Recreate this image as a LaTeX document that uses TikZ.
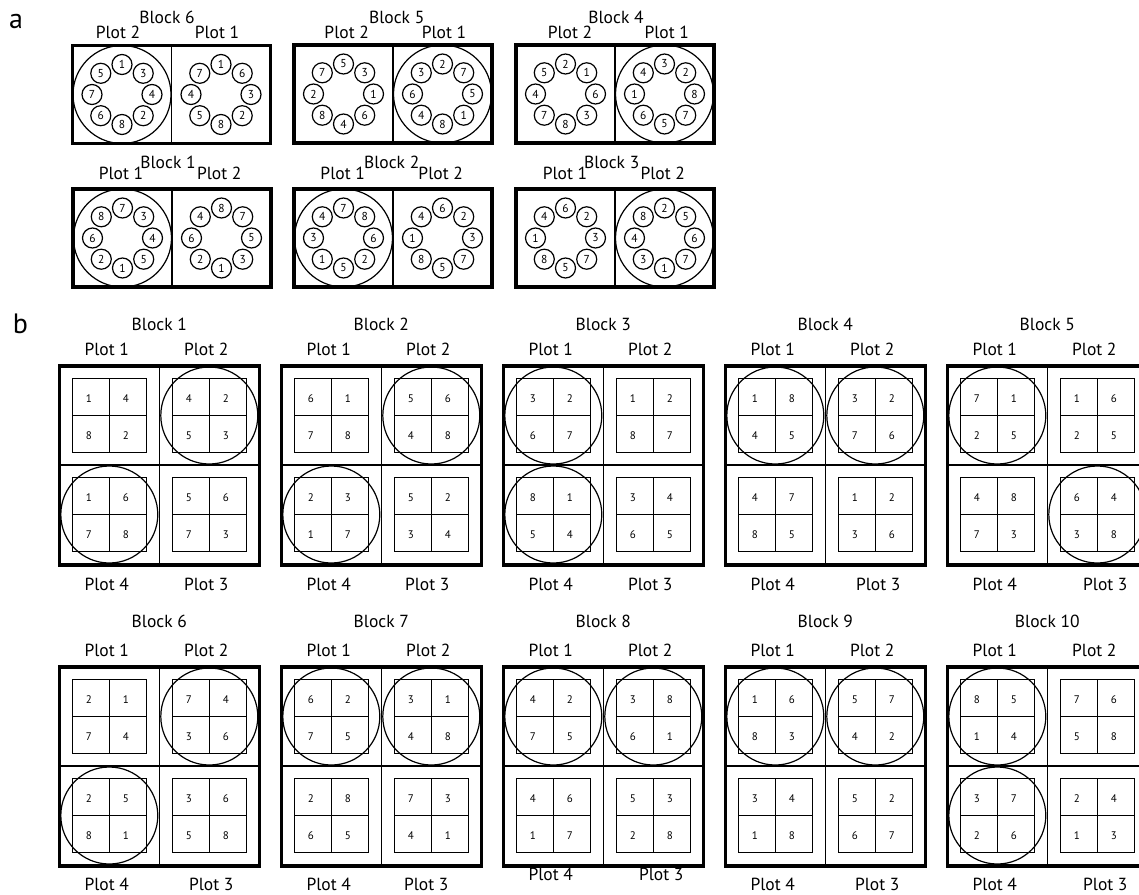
\documentclass[tikz,border=0pt]{standalone}
\usepackage{fontspec}
\setmainfont{PT Sans}
\tikzset{
  lbl/.style={inner sep=0pt, font=\fontsize{17.5}{20}\selectfont},
  panel/.style={inner sep=0pt, font=\fontsize{28}{30}\selectfont},
  gnum/.style={inner sep=0pt, font=\fontsize{11}{12}\selectfont},
  ringc/.style={circle, draw, line width=1.2pt, minimum size=20pt, inner sep=0pt, font=\fontsize{11.5}{12}\selectfont},
  thickframe/.style={line width=3.4pt},
  thinline/.style={line width=1.2pt},
}
% ring of eight small circles
\newcommand\Ring[4]{%
  \foreach \n [count=\i] in {#4} {
    \pgfmathsetmacro\xx{#2+30*cos(90-45*(\i-1))}
    \pgfmathsetmacro\yy{#3-30*sin(90-45*(\i-1))}
    \node[ringc] (#1\i) at (\xx,\yy) {\n};
  }%
}
% part a block: id, x, y, left list, right list, big circle side (0 left / 1 right)
\newcommand\AB[6]{%
  \draw[thickframe] (#2,#3) rectangle ++(198,98);
  \draw[thinline] (#2+99,#3) -- (#2+99,#3+98);
  \coordinate (#1-L) at (#2+49.5,#3+49);
  \coordinate (#1-R) at (#2+148.5,#3+49);
  \ifnum#6=0 \draw[thinline] (#1-L) circle (49);\else \draw[thinline] (#1-R) circle (49);\fi
  \Ring{#1-l}{#2+49.5}{#3+49}{#4}
  \Ring{#1-r}{#2+148.5}{#3+49}{#5}
}
% 2x2 numbered grid
\newcommand\Grid[4]{%
  \draw[thinline] (#2-37,#3-37) rectangle (#2+37,#3+37);
  \draw[thinline] (#2,#3-37) -- (#2,#3+37) (#2-37,#3) -- (#2+37,#3);
  \foreach \n [count=\i] in {#4} {
    \pgfmathsetmacro\xx{#2-18.5+37*mod(\i-1,2)-2}
    \pgfmathsetmacro\yy{#3-18.5+37*floor((\i-1)/2)+1.5}
    \node[gnum] (#1\i) at (\xx,\yy) {\n};
  }%
}
\def\blkoff{42}
\def\botoff{218}
% part b block: number, x, y, P1, P2, P3, P4, circled plots, Plot 3 x offset
\newcommand\BB[9]{%
  \draw[thickframe] (#2,#3) rectangle ++(200,199);
  \draw[thinline] (#2+100,#3) -- ++(0,199) (#2,#3+99) -- ++(200,0);
  \coordinate (bb#1-c1) at (#2+50,#3+49.5);
  \coordinate (bb#1-c2) at (#2+150,#3+49.5);
  \coordinate (bb#1-c3) at (#2+150,#3+148.5);
  \coordinate (bb#1-c4) at (#2+50,#3+148.5);
  \foreach \c in {#8} {\draw[thinline] (bb#1-c\c) circle (48.5);}
  \Grid{bb#1-g1-}{#2+50}{#3+49.5}{#4}
  \Grid{bb#1-g2-}{#2+150}{#3+49.5}{#5}
  \Grid{bb#1-g3-}{#2+150}{#3+148.5}{#6}
  \Grid{bb#1-g4-}{#2+50}{#3+148.5}{#7}
  \node[lbl] (bb#1-t) at (#2+100,#3-\blkoff) {Block #1};
  \node[lbl] (bb#1-p1) at (#2+47.5,#3-17) {Plot 1};
  \node[lbl] (bb#1-p2) at (#2+147,#3-17) {Plot 2};
  \node[lbl] (bb#1-p4) at (#2+47.5,#3+\botoff) {Plot 4};
  \node[lbl] (bb#1-p3) at (#2+#9,#3+\botoff) {Plot 3};
}
\begin{document}
\begin{tikzpicture}[x=1pt,y=-1pt]
\fill[white] (0,0) rectangle (1139,894);
\useasboundingbox (0,0) rectangle (1139,894);

% panel letters
\node[panel] (la) at (16,21) {a};
\node[panel] (lb) at (20.5,324) {b};

% ---------- part a ----------
\AB{a6}{72.5}{45.5}{1,3,4,2,8,6,7,5}{1,6,3,2,8,5,4,7}{0}
\AB{a5}{294}{45}{5,3,1,6,4,8,2,7}{2,7,5,1,8,4,6,3}{1}
\AB{a4}{516}{45}{2,1,6,3,8,7,4,5}{3,2,8,7,5,6,1,4}{1}
\AB{a1}{73}{189}{7,3,4,5,1,2,6,8}{8,7,5,3,1,2,6,4}{0}
\AB{a2}{294}{189}{7,8,6,2,5,1,3,4}{6,2,3,7,5,8,1,4}{0}
\AB{a3}{516}{189}{6,2,3,7,5,8,1,4}{2,5,6,7,1,3,4,8}{1}

\node[lbl] (a6-t) at (167,17) {Block 6};
\node[lbl] (a6-pl) at (118,32) {Plot 2};
\node[lbl] (a6-pr) at (217,32) {Plot 1};
\node[lbl] (a5-t) at (396.7,17) {Block 5};
\node[lbl] (a5-pl) at (346.7,32) {Plot 2};
\node[lbl] (a5-pr) at (444,32) {Plot 1};
\node[lbl] (a4-t) at (616,17) {Block 4};
\node[lbl] (a4-pl) at (570,32) {Plot 2};
\node[lbl] (a4-pr) at (666.7,32) {Plot 1};
\node[lbl] (a1-t) at (168,162.7) {Block 1};
\node[lbl] (a1-pl) at (121,173.3) {Plot 1};
\node[lbl] (a1-pr) at (219.3,173.3) {Plot 2};
\node[lbl] (a2-t) at (391.7,162.7) {Block 2};
\node[lbl] (a2-pl) at (342.7,173.3) {Plot 1};
\node[lbl] (a2-pr) at (440.7,173.3) {Plot 2};
\node[lbl] (a3-t) at (611.7,162.7) {Block 3};
\node[lbl] (a3-pl) at (565,173.3) {Plot 1};
\node[lbl] (a3-pr) at (662.7,173.3) {Plot 2};

% ---------- part b ----------
\def\blkoff{42}\def\botoff{218}
\BB{1}{59.3}{366}{1,4,8,2}{4,2,5,3}{5,6,7,3}{1,6,7,8}{2,4}{147}
\BB{2}{281.3}{366}{6,1,7,8}{5,6,4,8}{5,2,3,4}{2,3,1,7}{2,4}{146}
\BB{3}{503.3}{366}{3,2,6,7}{1,2,8,7}{3,4,6,5}{8,1,5,4}{1,4}{147}
\BB{4}{725.3}{366}{1,8,4,5}{3,2,7,6}{1,2,3,6}{4,7,8,5}{1,2}{153}
\BB{5}{947.3}{366}{7,1,2,5}{1,6,2,5}{6,4,3,8}{4,8,7,3}{1,3}{158}

\def\blkoff{46}\def\botoff{217}
\BB{6}{59.3}{667}{2,1,7,4}{7,4,3,6}{3,6,5,8}{2,5,8,1}{2,4}{152}
\BB{7}{281.3}{667}{6,2,7,5}{3,1,4,8}{7,3,4,1}{2,8,6,5}{1,2}{145}
{\def\botoff{207.5}
\BB{8}{503.3}{667}{4,2,7,5}{3,8,6,1}{5,3,2,8}{4,6,1,7}{1,2}{158}}
\BB{9}{725.3}{667}{1,6,8,3}{5,7,4,2}{5,2,6,7}{3,4,1,8}{1,2}{152}
\BB{10}{947.3}{667}{8,5,1,4}{7,6,5,8}{2,4,1,3}{3,7,2,6}{1,4}{158}
\end{tikzpicture}
\end{document}
